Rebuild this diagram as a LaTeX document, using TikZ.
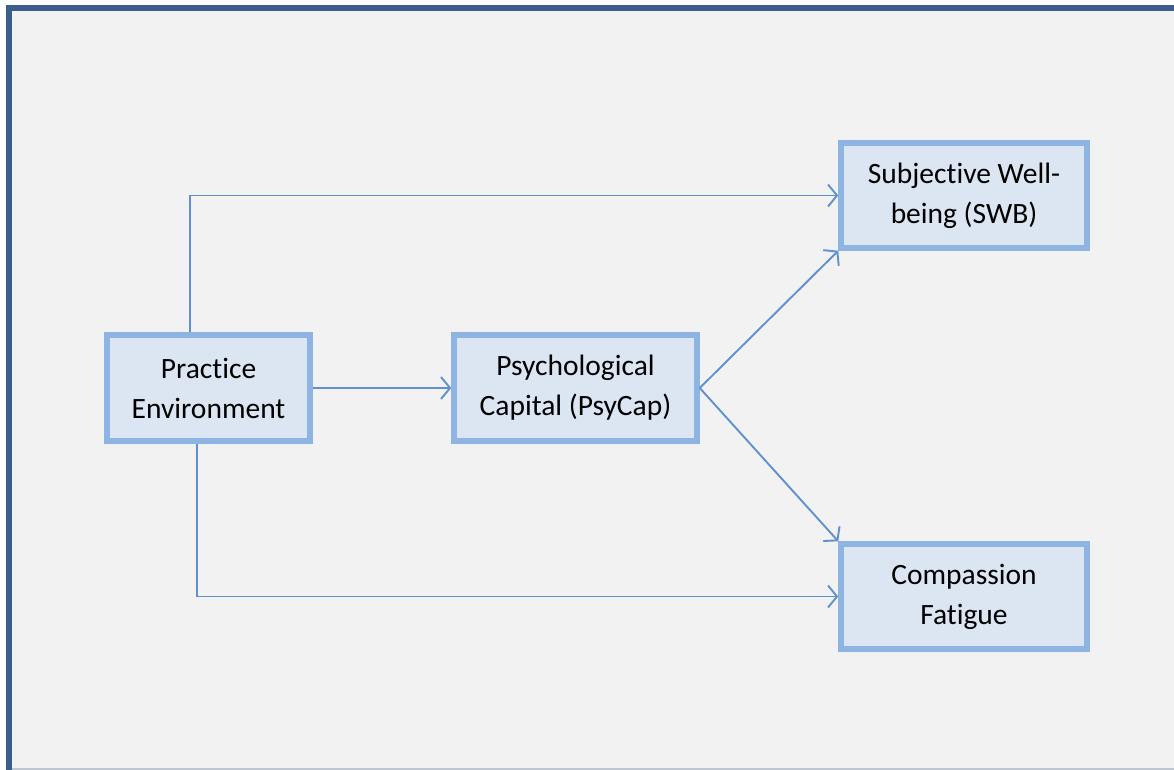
\documentclass[tikz,border=0pt]{standalone}
\usepackage{fontspec}
\setmainfont{Carlito}[Ligatures={NoCommon}]
\usetikzlibrary{arrows.meta}
\definecolor{framecol}{RGB}{58,95,140}
\definecolor{bgcol}{RGB}{242,242,242}
\definecolor{boxborder}{RGB}{141,180,226}
\definecolor{boxfill}{RGB}{220,230,242}
\definecolor{linecol}{RGB}{95,145,210}
\tikzset{
  box/.style={draw=boxborder, fill=boxfill, line width=5.5pt, align=center,
    font=\fontsize{29.5}{40}\selectfont, inner sep=0pt},
  conn/.style={draw=linecol, line width=1.9pt,
    -{Straight Barb[length=9pt,width=22pt,line width=1.9pt]}}
}
\begin{document}
\begin{tikzpicture}[x=1pt,y=-1pt]
\useasboundingbox (0,0) rectangle (1174,770);
\fill[white] (0,0) rectangle (1174,770);
\fill[bgcol] (9,8) rectangle (1180,780);
\draw[framecol, line width=6pt] (9,780) -- (9,8) -- (1180,8);
\draw[color={rgb,255:red,190;green,198;blue,208}, line width=1.5pt] (12,769) -- (1174,769);

\node[box, minimum width=203pt, minimum height=106pt] (pe) at (208.5,388) {Practice\\Environment};
\node[box, minimum width=243pt, minimum height=106pt] (pc) at (575.5,388) {Psychological\\Capital (PsyCap)};
\node[box, minimum width=246pt, minimum height=105pt] (swb) at (964,195.5) {Subjective Well-\\being (SWB)};
\node[box, minimum width=246pt, minimum height=105pt] (cf) at (964,596.5) {Compassion\\Fatigue};

\coordinate (petop) at (190,335);
\coordinate (pebot) at (197,441);
\draw[conn] (pe.north -| petop) |- (swb.west);
\draw[conn] (pe.south -| pebot) |- (cf.west);
\draw[conn] (pe.east) -- (pc.west);
\draw[conn] (pc.east) -- (swb.south west);
\draw[conn] (pc.east) -- (cf.north west);
\end{tikzpicture}
\end{document}
